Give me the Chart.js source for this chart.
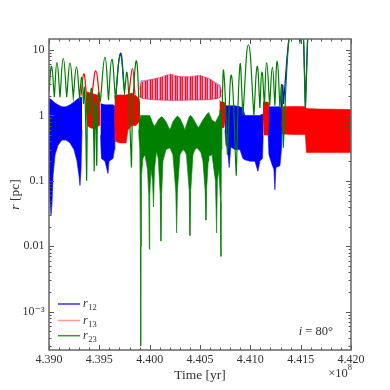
<!DOCTYPE html>
<html><head><meta charset="utf-8">
<script src="https://cdn.jsdelivr.net/npm/chart.js@4.4.1/dist/chart.umd.min.js"></script>
<style>html,body{margin:0;padding:0;background:#fff}</style>
</head><body>
<canvas id="c" width="390" height="390" style="width:390px;height:390px"></canvas>
<script>
// ---- axes ----
const xTicks = [4.390, 4.395, 4.400, 4.405, 4.410, 4.415, 4.420];
const yTicks = [0.001, 0.01, 0.1, 1, 10];
const yTickLabels = ['10\u207B\u00B3', '0.01', '0.1', '1', '10'];
const legendLabels = ['12', '13', '23'];

// ---- r12 (blue): inner-binary band, blocks separated by null ----
const r12BandTime = [4.39000,4.39010,4.39020,4.39030,4.39040,4.39060,4.39089,4.39129,4.39169,4.39209,4.39248,4.39278,4.39298,4.39308,4.39318,4.39328, null,
  4.39511,4.39521,4.39556,4.39586,4.39596,4.39636,4.39650,4.39655, null,
  4.40748,4.40758,4.40772,4.40790,4.40805,4.40847,4.40897,4.40926,4.40946,4.40996,4.41046,4.41075,4.41095,4.41120,4.41128, null,
  4.41175,4.41185,4.41214,4.41234,4.41244,4.41254,4.41294,4.41309,4.41317];
const r12BandLow = [0.10,0.05,0.03,0.045,0.12,0.25,0.35,0.42,0.42,0.38,0.30,0.20,0.12,0.085,0.15,0.60, null,
  0.50,0.22,0.20,0.13,0.20,0.22,0.30,0.80, null,
  0.60,0.35,0.33,0.16,0.33,0.30,0.30,0.22,0.21,0.20,0.20,0.14,0.20,0.22,0.50, null,
  0.60,0.25,0.18,0.15,0.073,0.16,0.17,0.30,0.80];
const r12BandHigh = [1.80,1.80,1.75,1.70,1.65,1.55,1.45,1.35,1.35,1.45,1.60,1.75,1.85,1.90,1.90,1.90, null,
  1.50,1.50,1.45,1.45,1.45,1.45,1.40,1.30, null,
  1.20,1.40,1.40,1.40,1.40,1.40,1.35,1.30,1.00,1.00,1.00,1.00,1.00,1.05,1.00, null,
  1.30,1.35,1.35,1.35,1.35,1.35,1.35,1.30,1.20];

// ---- r13 (red): inner-binary band ----
const r13BandTime = [4.39367,4.39382,4.39407,4.39457,4.39497,4.39506, null,
  4.39650,4.39660,4.39705,4.39765,4.39784,4.39824,4.39864,4.39894,4.39904, null,
  4.40693,4.40708,4.40738,4.40753, null,
  4.41125,4.41135,4.41175,4.41185, null,
  4.41309,4.41319,4.41443,4.41547,4.41557,4.41691,4.41840,4.42000];
const r13BandLow = [1.20,0.70,0.65,0.62,0.70,1.20, null,
  1.00,0.40,0.38,0.38,0.60,0.70,0.70,0.80,1.00, null,
  1.20,0.65,0.65,0.90, null,
  0.90,0.50,0.50,0.90, null,
  0.80,0.52,0.51,0.51,0.27,0.27,0.27,0.27];
const r13BandHigh = [2.00,2.30,2.20,2.10,2.00,1.90, null,
  1.90,2.05,2.05,2.05,2.10,2.20,2.00,1.80,1.50, null,
  1.70,1.60,1.60,1.50, null,
  1.60,1.60,1.60,1.50, null,
  1.30,1.36,1.37,1.36,1.27,1.25,1.24,1.23];

// ---- r23 (green): inner-binary band ----
const r23BandTime = [4.39889,4.39902,4.39908,4.39911,4.39914,4.39919,4.39933,4.39953,4.39978,4.39991,4.39996,4.40001,4.40013,4.40028,4.40038,4.40048,4.40068,4.40085,4.40105,4.40112,4.40119,4.40132,4.40162,4.40202,4.40231,4.40259,4.40268,4.40276,4.40301,4.40331,4.40350,4.40365,4.40393,4.40400,4.40408,4.40430,4.40450,4.40470,4.40485,4.40509,4.40529,4.40551,4.40559,4.40567,4.40582,4.40589,4.40619,4.40653,4.40665,4.40673,4.40688,4.40703,4.40708,4.40713,4.40718];
const r23BandHigh = [0.8,0.9,1.0,1.0,1.0,1.0,1.0,1.0,1.0,1.0,1.0,0.98,0.9,0.78,0.72,0.68,0.76,0.86,0.92,0.94,0.95,0.92,0.8,0.6,0.8,0.92,0.95,0.98,0.9,0.72,0.6,0.72,0.95,0.98,1.0,0.9,0.8,0.7,0.65,0.75,0.85,0.95,1.0,1.03,1.1,1.08,0.85,0.78,0.85,0.9,1.0,1.1,1.15,1.2,1.0];
const r23BandLow = [0.6,0.3,0.01,0.0003,0.01,0.12,0.22,0.25,0.15,0.06,0.009,0.06,0.15,0.1,0.04,0.15,0.28,0.22,0.06,0.012,0.06,0.2,0.3,0.32,0.25,0.07,0.016,0.07,0.25,0.3,0.28,0.25,0.07,0.0145,0.07,0.25,0.3,0.32,0.3,0.27,0.2,0.07,0.025,0.08,0.2,0.24,0.25,0.1,0.016,0.1,0.15,0.05,0.007,0.3,0.8];

// ---- outer-orbit fast oscillation envelopes while r23 is the inner pair ----
const outerTime = [4.39899,4.39914,4.40003,4.40102,4.40202,4.40301,4.40400,4.40499,4.40599,4.40668,4.40703,4.40713];
const r12OuterLow = [1.95,1.85,1.75,1.72,1.70,1.70,1.72,1.72,1.75,1.80,1.90,2.00];
const r12OuterHigh = [3.0,3.4,3.5,3.7,4.1,3.9,3.8,4.0,3.6,3.1,2.9,2.3];
const r13OuterLow = [1.95,1.85,1.75,1.72,1.70,1.70,1.72,1.72,1.75,1.80,1.90,2.00];
const r13OuterHigh = [2.5,3.2,3.5,3.8,4.3,3.9,3.9,4.1,3.6,3.0,2.7,2.2];

// ---- outer-orbit arcs (peaks and pericentre cusps) ----
const r23ArcTime = [4.39000,4.39025,4.39053,4.39079,4.39109,4.39142,4.39176,4.39209,4.39241,4.39273,4.39303,4.39326,4.39343,4.39355,4.39374,4.39387,4.39402,4.39422,4.39440,4.39449,4.39460,4.39474,4.39490,4.39511,4.39556,4.39591,4.39624,4.39660,4.39708,4.39750,4.39775,4.39799,4.39819,4.39834,4.39869,4.39899, null,
  4.40718,4.40735,4.40772,4.40812,4.40860,4.40897,4.40926,4.40981,4.41036,4.41068,4.41095,4.41115,4.41140,4.41162,4.41192,4.41219,4.41244,4.41267,4.41294,4.41312,4.41327,4.41383,4.41433,4.41492,4.41517,4.41547,4.41577,4.41592];
const r23ArcValue = [2.3,5.6,1.9,6.4,1.9,7.4,1.9,6.3,1.9,5.5,1.9,3.8,1.5,2.6,0.10,2.0,1.0,2.6,0.8,0.14,1.6,0.17,2.2,1.7,7.7,1.7,7.2,1.8,8.4,2.2,4.5,1.0,0.16,1.5,6.8,1.0, null,
  1.1,4.8,0.25,4.1,0.12,5.9,1.0,12.0,1.0,5.6,1.3,4.6,1.4,6.4,1.4,5.4,1.4,6.7,1.3,2.9,0.32,15,40,13.8,30,1.3,30,60];
const r12ArcTime = [4.39660,4.39710,4.39750, null, 4.41309,4.41321,4.41330,4.41383,4.41433,4.41492,4.41517,4.41547,4.41577,4.41592];
const r12ArcValue = [1.8,8.9,2.4, null, 1.3,2.9,1.5,15,40,13.8,30,1.3,30,60];
const r13ArcTime = [4.39318,4.39346,4.39372, null, 4.39427,4.39465,4.39501, null, 4.39794,4.39829,4.39854];
const r13ArcValue = [2.0,4.3,2.1, null, 2.1,4.8,2.0, null, 2.1,5.2,2.1];

// ---- styles ----
function stripes(cols) {
  const c = document.createElement('canvas');
  c.width = cols.length; c.height = 4;
  const g = c.getContext('2d');
  cols.forEach((col, i) => { g.fillStyle = col; g.fillRect(i, 0, 1, 4); });
  return g.createPattern(c, 'repeat');
}
const redStripes = stripes(['rgba(255,0,0,0.95)', 'rgba(255,90,110,0.85)', 'rgba(255,0,0,0.9)', 'rgba(255,170,185,0.6)', 'rgba(255,255,255,0)']);
const blueStripes = stripes(['rgba(0,0,255,0)', 'rgba(0,0,255,0.25)', 'rgba(0,0,255,0)', 'rgba(0,0,255,0.2)', 'rgba(0,0,255,0.35)']);

// ---- dataset construction ----
const ORDER = {r12: 3, r13: 2, r23: 1};
const COLOR = {r12: '#0000ff', r13: '#ff0000', r23: '#008000'};
const datasets = [];
function blocks(t, a, b) {
  const out = []; let cur = null;
  t.forEach((x, i) => {
    if (x === null) { cur = null; return; }
    if (!cur) { cur = {t: [], a: [], b: []}; out.push(cur); }
    cur.t.push(x); cur.a.push(a[i]); cur.b.push(b ? b[i] : null);
  });
  return out;
}
function addBand(t, lo, hi, key, fillColor, lineColor, lw) {
  for (const blk of blocks(t, lo, hi)) {
    const hiIdx = datasets.length;
    datasets.push({data: blk.t.map((x, i) => ({x, y: blk.b[i]})), borderColor: lineColor, borderWidth: lw,
      backgroundColor: fillColor, fill: false, pointRadius: 0, tension: 0, order: ORDER[key]});
    datasets.push({data: blk.t.map((x, i) => ({x, y: blk.a[i]})), borderColor: lineColor, borderWidth: lw,
      backgroundColor: fillColor, fill: {target: hiIdx}, pointRadius: 0, tension: 0, order: ORDER[key]});
  }
}
function addArc(t, v, key) {
  for (const blk of blocks(t, v)) {
    const pts = [];
    blk.t.forEach((x, i) => {
      const y = blk.a[i]; pts.push({x, y});
      const p = blk.a[i - 1], n = blk.a[i + 1];
      if (p !== undefined && n !== undefined && y < p && y < n) pts.push({x, y}); // sharp pericentre cusp
    });
    datasets.push({data: pts, borderColor: COLOR[key], borderWidth: 1.2, fill: false, pointRadius: 0,
      tension: 0.45, order: ORDER[key]});
  }
}
addBand(r12BandTime, r12BandLow, r12BandHigh, 'r12', '#0000ff', '#0000ff', 0.6);
addBand(outerTime, r12OuterLow, r12OuterHigh, 'r12', blueStripes, 'rgba(0,0,255,0.35)', 0.8);
addArc(r12ArcTime, r12ArcValue, 'r12');
addBand(r13BandTime, r13BandLow, r13BandHigh, 'r13', '#ff0000', '#ff0000', 0.6);
addBand(outerTime, r13OuterLow, r13OuterHigh, 'r13', redStripes, 'rgba(255,40,60,0.6)', 0.8);
addArc(r13ArcTime, r13ArcValue, 'r13');
addBand(r23BandTime, r23BandLow, r23BandHigh, 'r23', '#008000', '#008000', 0.6);
addArc(r23ArcTime, r23ArcValue, 'r23');

const SERIF = '"Liberation Serif", "DejaVu Serif", serif';
const deco = {
  id: 'deco',
  afterDraw(chart) {
    const {ctx, chartArea: a, scales: {x, y}} = chart;
    ctx.save();
    ctx.strokeStyle = '#555'; ctx.lineWidth = 1;
    ctx.beginPath();
    for (let k = 0; k <= 30; k++) {
      const v = xTicks[0] + k * 0.001;
      const px = Math.round(x.getPixelForValue(v)) + 0.5;
      const len = k % 5 === 0 ? 5 : 2.5;
      ctx.moveTo(px, a.bottom); ctx.lineTo(px, a.bottom - len);
      ctx.moveTo(px, a.top); ctx.lineTo(px, a.top + len);
    }
    for (let d = -4; d <= 1; d++) {
      for (let m = 1; m <= 9; m++) {
        const v = m * Math.pow(10, d);
        if (v < y.min || v > y.max) continue;
        const py = Math.round(y.getPixelForValue(v)) + 0.5;
        const len = m === 1 ? 5 : 2.5;
        ctx.moveTo(a.left, py); ctx.lineTo(a.left + len, py);
        ctx.moveTo(a.right, py); ctx.lineTo(a.right - len, py);
      }
    }
    ctx.stroke();
    ctx.lineWidth = 1.5; ctx.strokeStyle = '#666';
    ctx.strokeRect(a.left, a.top, a.right - a.left, a.bottom - a.top);

    // legend
    const legColors = ['#3333ff', '#ff9999', '#339933'];
    const legY = [a.bottom - 46, a.bottom - 29.5, a.bottom - 14.3];
    ctx.fillStyle = '#333';
    legY.forEach((ly, i) => {
      ctx.strokeStyle = legColors[i]; ctx.lineWidth = 1.5;
      ctx.beginPath(); ctx.moveTo(a.left + 9, ly); ctx.lineTo(a.left + 31, ly); ctx.stroke();
      ctx.textBaseline = 'alphabetic'; ctx.textAlign = 'left';
      ctx.font = 'italic 12px ' + SERIF;
      ctx.fillText('r', a.left + 34, ly + 3);
      const w = ctx.measureText('r').width;
      ctx.font = '8.5px ' + SERIF;
      ctx.fillText(legendLabels[i], a.left + 34 + w + 0.5, ly + 6);
    });

    // annotation i = 80°
    ctx.font = 'italic 12.5px ' + SERIF;
    ctx.textAlign = 'left';
    const iw = ctx.measureText('i').width;
    ctx.font = '12.5px ' + SERIF;
    const rest = ' = 80\u00B0';
    const rw = ctx.measureText(rest).width;
    const sx = a.right - 18 - iw - rw;
    ctx.font = 'italic 12.5px ' + SERIF; ctx.fillText('i', sx, a.bottom - 15);
    ctx.font = '12.5px ' + SERIF; ctx.fillText(rest, sx + iw, a.bottom - 15);

    // x title
    ctx.font = '13.5px ' + SERIF; ctx.textAlign = 'center';
    ctx.fillText('Time [yr]', (a.left + a.right) / 2, 379);
    // multiplier
    ctx.textAlign = 'right';
    ctx.font = '8.5px ' + SERIF; ctx.fillText('8', a.right + 1, 370);
    const e8 = ctx.measureText('8').width;
    ctx.font = '12.5px ' + SERIF; ctx.fillText('\u00D710', a.right + 1 - e8, 377);
    // y title
    ctx.save();
    ctx.translate(19, (a.top + a.bottom) / 2);
    ctx.rotate(-Math.PI / 2);
    ctx.textAlign = 'left';
    ctx.font = 'italic 13.5px ' + SERIF;
    const wr = ctx.measureText('r').width;
    ctx.font = '13.5px ' + SERIF;
    const wt = ctx.measureText(' [pc]').width;
    const x0 = -(wr + wt) / 2;
    ctx.font = 'italic 13.5px ' + SERIF; ctx.fillText('r', x0, 0);
    ctx.font = '13.5px ' + SERIF; ctx.fillText(' [pc]', x0 + wr, 0);
    ctx.restore();
    ctx.restore();
  }
};

new Chart(document.getElementById('c'), {
  type: 'line',
  data: {datasets},
  plugins: [deco],
  options: {
    responsive: false, animation: false, events: [],
    layout: {padding: {top: 39, right: 39, left: 0, bottom: 0}},
    plugins: {legend: {display: false}, tooltip: {enabled: false}},
    scales: {
      x: {
        type: 'linear', min: 4.390, max: 4.420,
        afterBuildTicks: s => { s.ticks = xTicks.map(v => ({value: v})); },
        afterFit: s => { s.height = 40; },
        grid: {display: false, drawTicks: false}, border: {display: false},
        ticks: {color: '#333', font: {family: SERIF, size: 12}, padding: 3, maxRotation: 0, autoSkip: false,
          callback: v => v.toFixed(3)}
      },
      y: {
        type: 'logarithmic', min: 2.6e-4, max: 14.7,
        afterBuildTicks: s => { s.ticks = yTicks.map(v => ({value: v})); },
        afterFit: s => { s.width = 49; },
        grid: {display: false, drawTicks: false}, border: {display: false},
        ticks: {color: '#333', font: {family: SERIF, size: 12}, padding: 4.5, autoSkip: false,
          callback: v => { const i = yTicks.indexOf(v); return i >= 0 ? yTickLabels[i] : ''; }}
      }
    }
  }
});
</script>
</body></html>
